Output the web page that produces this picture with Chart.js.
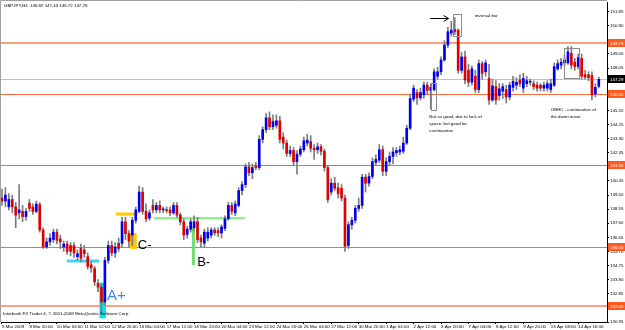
<!DOCTYPE html>
<html>
<head>
<meta charset="utf-8">
<script src="https://cdn.jsdelivr.net/npm/chart.js@4.4.1/dist/chart.umd.min.js"></script>
<style>
  html, body { margin: 0; padding: 0; background: #fff; }
  #wrap { width: 625px; height: 330px; }
</style>
</head>
<body>
<div id="wrap"><canvas id="chart" width="625" height="330"></canvas></div>
<script>
// GBPJPY H4 candles
const title = "GBPJPY,H4  146.82 147.43 146.72 147.29";
const footer = "Interbank FX Trader 4, \u00a9 2001-2008 MetaQuotes Software Corp.";

const opens = [139.3,139.1,138.7,139.2,138.7,138.3,138.4,138.05,138.95,138.7,138.4,138.85,137.15,136.0,136.35,136.5,137.0,136.55,136.0,136.2,
  136.1,136.1,135.35,135.9,135.8,135.35,134.8,134.55,133.55,133.3,132.3,135.1,136.1,135.6,136.25,136.25,137.7,136.9,136.8,137.8,
  138.4,139.7,138.4,137.95,138.8,138.5,138.8,138.5,138.5,138.5,138.3,138.8,138.15,137.7,136.85,137.2,137.3,137.7,136.6,136.25,
  136.6,136.8,137.15,137.1,136.95,137.25,137.9,138.8,138.3,138.8,139.8,140.2,141.4,141.0,141.45,141.35,143.25,143.9,144.7,144.1,
  144.2,144.5,143.4,143.0,142.3,142.5,141.75,142.25,142.55,143.0,143.1,142.65,142.55,142.75,142.45,141.35,139.7,140.3,140.0,139.95,
  139.3,136.1,137.5,137.8,138.6,138.8,140.7,140.3,140.75,141.7,141.85,142.55,141.1,141.75,142.1,142.35,142.4,142.45,143.0,144.0,
  145.95,146.4,146.05,146.25,146.9,146.55,146.6,147.5,147.8,148.6,149.6,150.4,150.65,150.6,147.9,148.8,147.9,147.1,147.5,146.6,
  148.35,147.8,147.35,145.9,146.8,146.2,146.5,146.6,146.1,146.75,146.9,147.25,146.7,147.0,147.1,147.0,146.9,146.9,146.7,146.7,
  146.6,146.9,148.0,148.25,148.4,148.4,149.05,148.45,148.15,148.7,147.6,147.6,147.55,146.3,146.82];
const highs = [139.9,140.0,139.6,139.5,139.0,140.2,138.8,138.6,139.2,138.9,139.1,139.0,137.3,136.6,136.9,137.2,137.2,136.8,136.4,136.4,
  136.3,136.3,135.8,136.2,136.1,135.6,135.0,134.7,133.8,133.5,135.3,136.4,136.4,136.3,136.6,138.0,138.0,137.1,138.0,138.7,
  140.1,140.0,138.9,138.5,139.2,139.0,139.1,138.7,138.7,138.7,139.0,139.0,138.3,137.9,137.4,137.9,138.1,138.0,136.8,137.2,
  137.3,137.3,137.3,137.3,137.5,138.1,139.0,139.0,139.1,140.0,140.4,141.6,141.7,141.6,141.7,143.5,144.1,145.0,145.1,144.9,
  144.9,144.8,143.7,143.2,142.8,142.7,142.5,142.8,143.4,143.6,143.5,142.9,143.0,142.9,142.6,141.5,140.6,140.7,140.3,140.2,
  139.5,137.7,138.0,138.8,139.3,140.9,140.9,141.0,142.0,142.2,142.9,142.8,142.0,142.4,142.7,142.7,142.8,143.4,144.2,146.3,
  146.9,146.6,146.7,147.1,147.1,147.0,148.0,148.1,148.8,149.9,150.8,151.2,151.45,150.7,149.1,149.2,148.3,148.2,147.9,148.6,
  148.5,148.6,148.3,147.3,147.2,147.0,147.0,146.9,147.1,147.5,147.4,147.6,147.7,147.5,147.3,147.2,147.1,147.0,147.1,147.2,
  147.3,148.4,148.6,148.7,148.9,149.5,149.5,148.7,149.0,149.0,147.9,147.8,147.8,147.0,147.43];
const lows = [138.8,138.7,138.5,138.3,137.3,137.9,137.7,137.8,138.4,138.2,138.3,137.0,135.9,135.9,136.1,136.3,136.2,135.9,135.7,135.5,
  135.4,135.3,135.1,135.0,135.3,134.5,134.3,133.4,133.0,131.5,132.1,134.9,135.4,135.3,135.7,136.0,136.5,136.0,136.1,137.6,
  138.3,138.2,137.7,137.8,138.3,138.3,138.3,138.3,138.3,138.1,138.2,138.0,137.5,136.5,136.6,137.0,137.1,136.3,136.0,136.0,
  136.4,136.6,136.8,136.7,136.6,137.1,137.8,138.2,138.1,138.7,139.5,140.0,140.8,140.6,141.2,141.2,143.0,143.7,143.9,143.9,
  144.0,143.0,142.6,142.1,142.1,141.5,140.9,142.1,142.4,142.8,142.4,141.9,142.3,142.2,141.1,139.0,139.5,139.8,139.3,139.1,
  135.7,135.9,137.2,137.6,138.4,138.6,139.7,140.1,140.6,141.5,141.7,140.8,140.8,141.5,141.6,142.1,142.2,142.3,142.9,143.9,
  145.8,145.6,145.9,146.0,146.3,145.3,146.5,147.3,147.6,148.5,149.4,150.2,150.3,147.7,147.7,147.0,146.8,146.9,146.4,146.4,
  147.3,147.5,145.6,145.8,145.6,145.9,146.0,145.7,145.9,146.5,146.6,146.8,146.4,146.8,146.9,146.6,146.5,146.5,146.5,146.5,
  146.4,146.8,147.9,148.0,148.2,148.3,148.0,147.9,148.0,147.3,147.3,147.2,145.9,146.1,146.72];
const closes = [139.1,139.5,139.2,138.7,138.15,138.5,138.05,138.4,138.6,138.4,138.9,137.15,136.0,136.35,136.6,137.0,136.45,136.35,136.2,135.7,
  135.7,135.6,135.55,135.25,135.55,134.7,134.6,133.65,133.3,132.3,135.1,136.1,135.6,136.0,135.9,137.7,136.9,136.4,137.8,138.5,
  139.7,138.4,137.9,138.3,138.5,138.8,138.5,138.5,138.45,138.3,138.8,138.15,137.7,136.8,137.2,137.7,137.7,136.5,136.35,137.0,
  137.0,137.15,136.95,136.95,137.35,137.9,138.8,138.4,138.9,139.8,140.2,141.4,141.0,141.35,141.35,143.25,143.9,144.7,144.1,144.45,
  144.5,143.25,143.0,142.3,142.5,141.75,142.25,142.6,143.15,143.2,142.65,142.55,142.75,142.45,141.35,139.2,140.3,139.95,139.6,139.3,
  136.05,137.5,137.8,138.6,138.8,140.7,140.3,140.75,141.75,141.9,142.55,141.1,141.75,142.1,142.4,142.5,142.55,143.0,144.0,146.0,
  146.7,146.05,146.4,146.9,146.55,146.75,147.8,147.8,148.6,149.6,150.5,150.6,150.5,147.9,148.8,147.25,147.1,148.0,146.6,148.35,
  147.7,148.4,145.9,146.85,145.9,146.65,146.8,146.1,146.9,147.15,147.1,147.0,147.35,147.2,147.1,146.8,146.7,146.7,146.9,147.0,
  147.0,148.15,148.35,148.45,148.6,149.15,148.25,148.15,148.75,147.5,147.45,147.4,146.25,146.75,147.29];

// one time label every 8 bars
const dateLabels = ["5 Mar 2009","8 Mar 20:00","10 Mar 04:00","11 Mar 12:00","12 Mar 20:00","16 Mar 04:00","17 Mar 12:00",
  "18 Mar 20:00","20 Mar 04:00","23 Mar 12:00","24 Mar 20:00","26 Mar 04:00","27 Mar 12:00","30 Mar 20:00","1 Apr 04:00",
  "2 Apr 12:00","5 Apr 20:00","7 Apr 04:00","8 Apr 12:00","9 Apr 20:00","13 Apr 08:00","14 Apr 16:00"];
const priceTicks = [151.85,150.90,149.00,148.05,145.20,144.25,143.30,142.35,140.45,139.50,138.55,137.60,136.65,
  135.70,134.75,133.80,132.85,130.95];
const levelLines = [149.73, 146.30, 141.50, 136.00, 132.00];
const bidPrice = 147.29;

const wicks = lows.map((l, i) => ({x: i, y: [l, highs[i]]}));
const bodies = opens.map((o, i) => ({x: i, y: [o, closes[i]]}));
const bodyColors = opens.map((o, i) => closes[i] >= o ? "#0000f0" : "#e00000");

const tinyFont = "4.4px 'Liberation Sans'";

function hline(ctx, a, py, color, w) {
  ctx.strokeStyle = color; ctx.lineWidth = w;
  ctx.beginPath(); ctx.moveTo(a.left, py); ctx.lineTo(a.right, py); ctx.stroke();
}

const marks = {
  id: "marks",
  beforeDatasetsDraw(chart) {
    const {ctx, chartArea: a, scales: {x, y}} = chart;
    ctx.save();
    ctx.beginPath(); ctx.rect(a.left, a.top, a.right - a.left, a.bottom - a.top); ctx.clip();
    // bid line
    hline(ctx, a, Math.round(y.getPixelForValue(bidPrice)) + 0.5, "#b8c4d0", 1);
    // support / resistance lines
    const widths = [2, 1, 1, 1, 2];
    levelLines.forEach((v, k) => {
      hline(ctx, a, Math.round(y.getPixelForValue(v)) + (widths[k] === 1 ? 0.5 : 0), widths[k] === 1 ? "#ff6a3a" : "#ff9e80", widths[k]);
    });
    // highlight boxes
    const rect = (x0, x1, p0, p1, c) => {
      ctx.fillStyle = c;
      const px0 = x.getPixelForValue(x0), px1 = x.getPixelForValue(x1);
      const py0 = y.getPixelForValue(p0), py1 = y.getPixelForValue(p1);
      ctx.fillRect(px0, py1, px1 - px0, py0 - py1);
    };
    rect(28.4, 30.3, 131.2, 133.6, "#00e4f8");
    rect(37.3, 39.3, 135.87, 136.94, "#ffc800");
    // marker lines
    const seg = (x0, p0, x1, p1, c, w) => {
      ctx.strokeStyle = c; ctx.lineWidth = w;
      ctx.beginPath();
      ctx.moveTo(x.getPixelForValue(x0), y.getPixelForValue(p0));
      ctx.lineTo(x.getPixelForValue(x1), y.getPixelForValue(p1));
      ctx.stroke();
    };
    seg(18.9, 135.05, 28.3, 135.05, "#40d4f8", 3);
    seg(33.2, 138.22, 39.1, 138.22, "#ffcc00", 3);
    seg(44.3, 137.93, 70.8, 137.93, "#90ee90", 2.5);
    seg(55.8, 137.35, 55.8, 134.79, "#70dd70", 3);
    ctx.restore();
  },
  afterDraw(chart) {
    const {ctx, chartArea: a, scales: {x, y}} = chart;
    ctx.save();
    // frame
    ctx.strokeStyle = "#a0a0a0"; ctx.lineWidth = 1;
    ctx.beginPath(); ctx.moveTo(0.5, a.bottom); ctx.lineTo(0.5, 0.5); ctx.lineTo(a.right, 0.5); ctx.stroke();
    // outline boxes
    ctx.strokeStyle = "#8c8c8c";
    const box = (x0, x1, p0, p1) => {
      const px0 = Math.round(x.getPixelForValue(x0)) + 0.5, px1 = Math.round(x.getPixelForValue(x1)) + 0.5;
      const py0 = Math.round(y.getPixelForValue(p0)) + 0.5, py1 = Math.round(y.getPixelForValue(p1)) + 0.5;
      ctx.strokeRect(px0, py1, px1 - px0, py0 - py1);
    };
    box(125.0, 126.6, 145.2, 147.05);
    box(131.6, 133.9, 150.2, 151.7);
    box(163.8, 168.2, 147.4, 149.4);
    // arrow to the reversal bar
    const ay = Math.round(y.getPixelForValue(151.42)) + 0.5;
    const ax0 = x.getPixelForValue(124.8), ax1 = x.getPixelForValue(130.2);
    ctx.strokeStyle = "#000"; ctx.lineWidth = 1;
    ctx.beginPath();
    ctx.moveTo(ax0, ay); ctx.lineTo(ax1, ay);
    ctx.moveTo(ax1 - 5, ay - 3); ctx.lineTo(ax1, ay); ctx.lineTo(ax1 - 5, ay + 3);
    ctx.stroke();
    // notes
    ctx.fillStyle = "#000";
    ctx.textBaseline = "middle"; ctx.textAlign = "left";
    ctx.font = tinyFont;
    ctx.fillText(title, 4, 6);
    ctx.fillText(footer, 3, 314);
    const note = (s, i, p) => ctx.fillText(s, x.getPixelForValue(i), y.getPixelForValue(p));
    note("reversal bar", 137.8, 151.58);
    note("Not so good, due to lack of", 124.6, 144.76);
    note("space, but good for", 124.6, 144.29);
    note("continuation", 124.6, 143.82);
    note("OBHC - continuation of", 160.0, 145.23);
    note("the down move", 160.0, 144.76);
    ctx.textBaseline = "alphabetic";
    ctx.font = "15px 'Liberation Sans'";
    ctx.fillStyle = "#3c8cf0";
    ctx.fillText("A+", x.getPixelForValue(30.6), y.getPixelForValue(132.4));
    ctx.font = "13px 'Liberation Sans'";
    ctx.fillStyle = "#000";
    ctx.fillText("C-", x.getPixelForValue(39.6), y.getPixelForValue(135.85));
    ctx.fillText("B-", x.getPixelForValue(56.9), y.getPixelForValue(134.7));
    // price labels for the levels on the axis
    ctx.font = tinyFont;
    ctx.textBaseline = "middle";
    const tag = (v, bg) => {
      const py = Math.round(y.getPixelForValue(v));
      ctx.fillStyle = bg;
      ctx.fillRect(a.right + 1, py - 4, 17, 8);
      ctx.fillStyle = "#fff";
      ctx.fillText(v.toFixed(2), a.right + 3, py + 0.5);
    };
    levelLines.forEach(v => tag(v, "#ff5a1e"));
    tag(bidPrice, "#000");
    ctx.restore();
  }
};

new Chart(document.getElementById("chart"), {
  type: "bar",
  data: {
    datasets: [
      {data: bodies, backgroundColor: bodyColors, barThickness: 2, minBarLength: 1, grouped: false, order: 0},
      {data: wicks, backgroundColor: "#7c7c7c", barThickness: 1, grouped: false, order: 1}
    ]
  },
  options: {
    responsive: false,
    animation: false,
    devicePixelRatio: 1,
    layout: {padding: {left: 1, top: 2, right: 0, bottom: 0}},
    plugins: {legend: {display: false}, tooltip: {enabled: false}},
    scales: {
      x: {
        type: "linear",
        offset: false,
        min: -0.29, max: 176.39,
        afterBuildTicks: s => { s.ticks = dateLabels.map((_, k) => ({value: k * 8})); },
        afterFit: s => { s.height = 8; s.paddingLeft = 0; s.paddingRight = 0; },
        ticks: {
          callback: v => dateLabels[Math.round(v / 8)],
          align: "start", maxRotation: 0, autoSkip: false, padding: 0,
          font: {family: "Liberation Sans", size: 4.4}, color: "#000"
        },
        grid: {offset: false, drawOnChartArea: false, tickLength: 2, color: "#000"},
        border: {color: "#000"}
      },
      y: {
        position: "right",
        min: 130.95, max: 152.5,
        afterBuildTicks: s => { s.ticks = priceTicks.map(v => ({value: v})); },
        afterFit: s => { s.width = 18; s.paddingTop = 0; s.paddingBottom = 0; },
        ticks: {
          callback: v => v.toFixed(2), padding: 1,
          font: {family: "Liberation Sans", size: 4.4}, color: "#000"
        },
        grid: {drawOnChartArea: false, tickLength: 2, color: "#000"},
        border: {color: "#000"}
      }
    }
  },
  plugins: [marks]
});
</script>
</body>
</html>
